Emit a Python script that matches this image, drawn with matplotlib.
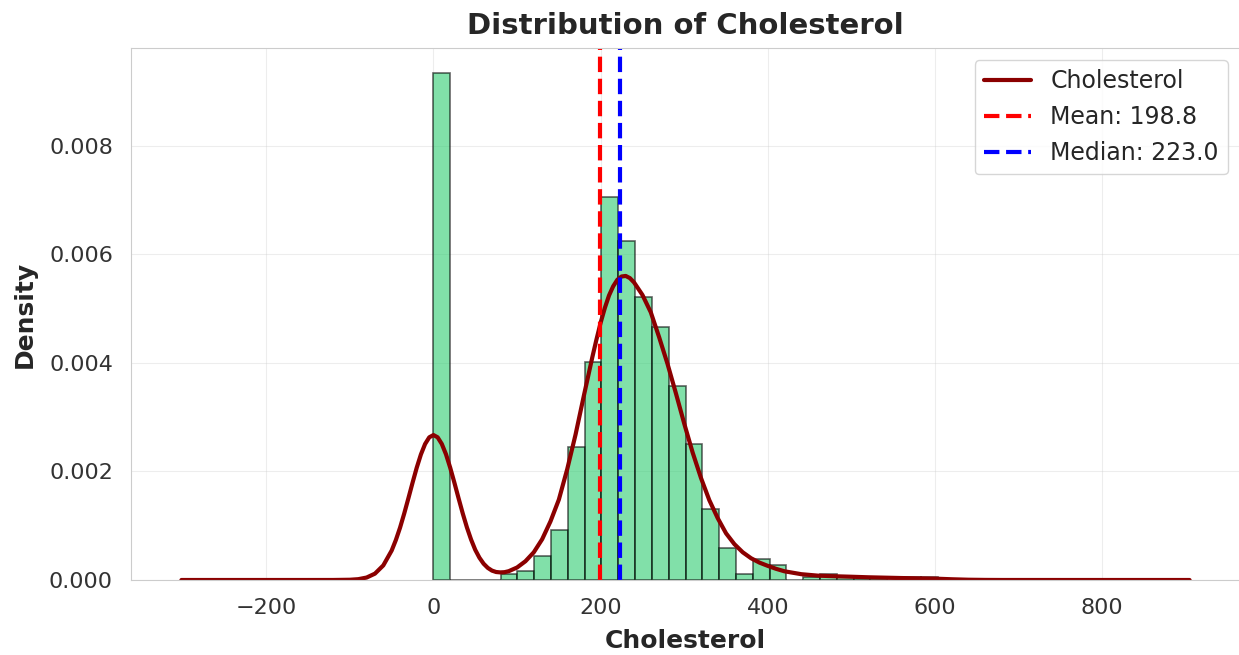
#!/usr/bin/env python3
"""Cholesterol distribution: density histogram, KDE curve, mean / median markers."""

import numpy as np
import matplotlib
matplotlib.use('Agg')
import matplotlib.pyplot as plt
import seaborn as sns

# Histogram: 30 equal bins between the data min and max, counts
data_min = 0.0
data_max = 603.0
n_bins = 30
bin_counts = [172, 0, 0, 0, 2, 3, 8, 17, 45, 74,
              130, 115, 96, 86, 66, 46, 24, 11, 2, 7,
              5, 0, 1, 2, 1, 1, 1, 0, 1, 1]

# KDE curve (density) sampled off the chart
kde_x = [-301.5, -200, -150, -120, -100, -90, -80, -70, -60, -50,
         -45, -40, -35, -30, -25, -20, -15, -10, -5, 0,
         5, 10, 15, 20, 25, 30, 35, 40, 45, 50,
         55, 60, 65, 70, 75, 80, 85, 90, 100, 110,
         120, 130, 140, 150, 160, 170, 180, 190, 195, 200,
         205, 210, 215, 220, 225, 230, 235, 240, 250, 260,
         270, 280, 290, 300, 310, 320, 330, 340, 350, 360,
         370, 380, 390, 400, 410, 420, 440, 460, 480, 500,
         520, 560, 600, 620, 640, 660, 680, 750, 904.5]
kde_y = [0.0, 0.0, 0.0, 0.0000003, 0.0000045, 0.000015, 0.000045, 0.000117, 0.000269, 0.000542,
         0.000735, 0.000962, 0.001223, 0.001504, 0.001792, 0.002069, 0.002313, 0.002505, 0.002628, 0.00267,
         0.002628, 0.002505, 0.002315, 0.00207, 0.001795, 0.001508, 0.001228, 0.00097, 0.000745, 0.000555,
         0.00041, 0.0003, 0.000223, 0.000173, 0.000147, 0.00014, 0.000144, 0.000162, 0.00023, 0.000345,
         0.00051, 0.00075, 0.00108, 0.00148, 0.00204, 0.00268, 0.0034, 0.0041, 0.00443, 0.00474,
         0.00501, 0.00524, 0.00541, 0.00553, 0.00559, 0.0056, 0.00556, 0.00548, 0.00525, 0.00493,
         0.00447, 0.00398, 0.00344, 0.00288, 0.00235, 0.00188, 0.00147, 0.00114, 0.00086, 0.00066,
         0.00051, 0.0004, 0.00032, 0.00026, 0.000205, 0.00016, 0.000107, 0.00008, 0.000069, 0.00006,
         0.00005, 0.000036, 0.000025, 0.0000135, 0.000005, 0.0000015, 0.0000002, 0.0, 0.0]

mean_val = 198.8
median_val = 223.0

sns.set_style('whitegrid')
plt.rcParams['font.family'] = ['DejaVu Sans']

W, H = 1239, 655
fig = plt.figure(figsize=(W / 100, H / 100), dpi=100)
ax = fig.add_axes([131 / W, 1 - 580 / H, (1240 - 131) / W, (580 - 48) / H])

bin_edges = np.linspace(data_min, data_max, n_bins + 1)
bin_centers = (bin_edges[:-1] + bin_edges[1:]) / 2
ax.hist(bin_centers, bins=bin_edges, weights=bin_counts, density=True,
        color='#2ecc71', alpha=0.6, edgecolor='black', linewidth=1.2)

ax.plot(kde_x, kde_y, color='darkred', linewidth=3, label='Cholesterol')
ax.axvline(mean_val, color='red', linestyle='--', linewidth=3,
           label=f'Mean: {mean_val:.1f}')
ax.axvline(median_val, color='blue', linestyle='--', linewidth=3,
           label=f'Median: {median_val:.1f}')

ax.set_title('Distribution of Cholesterol', fontsize=21, fontweight='bold', pad=10)
ax.set_xlabel('Cholesterol', fontsize=18, fontweight='bold', labelpad=8)
ax.set_ylabel('Density', fontsize=18, fontweight='bold', labelpad=9)
ax.tick_params(labelsize=16, colors='#333333', pad=9.5)
ax.grid(True, alpha=0.35)
ax.legend(loc='upper right', fontsize=17)

fig.savefig('out.png', dpi=100)
